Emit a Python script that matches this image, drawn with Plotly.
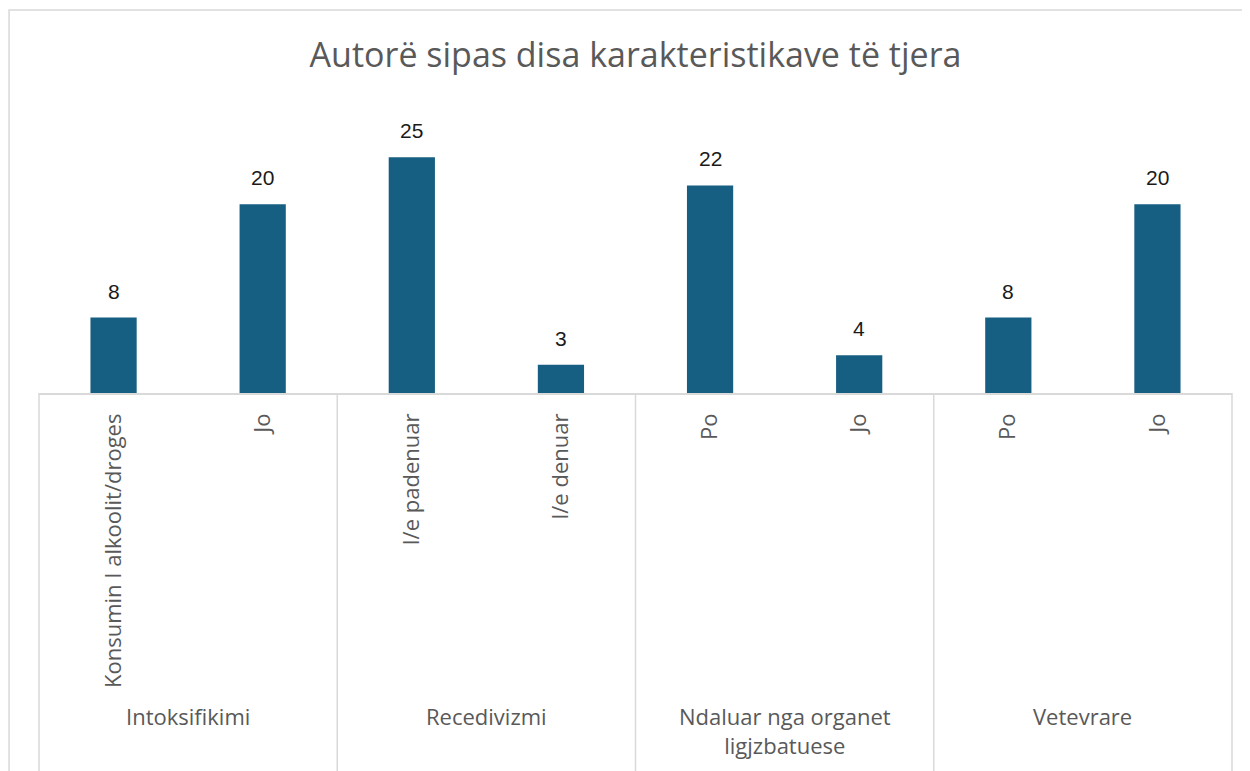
import plotly.graph_objects as go

groups = ["Intoksifikimi", "Recedivizmi", "Ndaluar nga organet<br>ligjzbatuese", "Vetevrare"]
sub_labels = [
    ["Konsumin I alkoolit/droges", "Jo"],
    ["I/e padenuar", "I/e denuar"],
    ["Po", "Jo"],
    ["Po", "Jo"],
]
values = [[8, 20], [25, 3], [22, 4], [8, 20]]

title = "Autorë sipas disa karakteristikave të tjera"
bar_color = "#175F82"
text_gray = "#595959"
line_gray = "#D9D9D9"

xs, ys, ticks = [], [], []
for g, (subs, vals) in enumerate(zip(sub_labels, values)):
    for s, v in zip(subs, vals):
        xs.append(len(xs))
        ys.append(v)
        ticks.append(s)

n = len(xs)
xmin, xmax = -0.5, n - 0.5

fig = go.Figure()
fig.add_trace(go.Bar(
    x=xs, y=ys, marker_color=bar_color, marker_line_width=0,
    width=0.31, hoverinfo="x+y",
))

def px_frac(xv):
    return (xv - xmin) / (xmax - xmin)

shapes = []
annotations = []
# data labels
for x, y in zip(xs, ys):
    annotations.append(dict(
        x=x, y=y, xref="x", yref="y", yanchor="bottom", yshift=13,
        text=str(y), showarrow=False,
        font=dict(size=21, color="#1A1A1A", family="Liberation Sans"),
    ))
start = 0
bounds = [xmin]
for g, subs in enumerate(sub_labels):
    end = start + len(subs)
    bounds.append(end - 0.5)
    mid = (start + end - 1) / 2
    annotations.append(dict(
        x=mid, xref="x", y=-1.08, yref="paper", yanchor="top",
        text=groups[g], showarrow=False,
        font=dict(size=22, color=text_gray, family="Open Sans"),
    ))
    start = end
for b in bounds:
    shapes.append(dict(type="line", xref="paper", yref="paper",
                       x0=px_frac(b), x1=px_frac(b), y0=0, y1=-1.4,
                       line=dict(color=line_gray, width=1.5)))
# outer chart frame
shapes.append(dict(type="rect", xref="paper", yref="paper",
                   x0=-0.0251, x1=1.05, y0=-1.5, y1=1.353,
                   line=dict(color=line_gray, width=1.5), layer="below"))

fig.update_layout(
    width=1242, height=763,
    margin=dict(l=31, r=18, t=102, b=378),
    paper_bgcolor="white", plot_bgcolor="white",
    title=dict(text=title, x=0.5, xref="paper", y=1 - 47 / 763, yanchor="middle",
               font=dict(size=34, color=text_gray, family="Open Sans")),
    showlegend=False,
    shapes=shapes, annotations=annotations,
    font=dict(family="Open Sans"),
)
fig.update_xaxes(
    range=[xmin, xmax], tickvals=xs, ticktext=ticks, tickangle=-90,
    tickfont=dict(size=22, color=text_gray, family="Open Sans"),
    showline=True, linecolor=line_gray, linewidth=1.5, ticks="",
    showgrid=False, zeroline=False, ticklabelstandoff=10,
)
fig.update_yaxes(range=[0, 30], visible=False)

fig.write_html("out.html")
